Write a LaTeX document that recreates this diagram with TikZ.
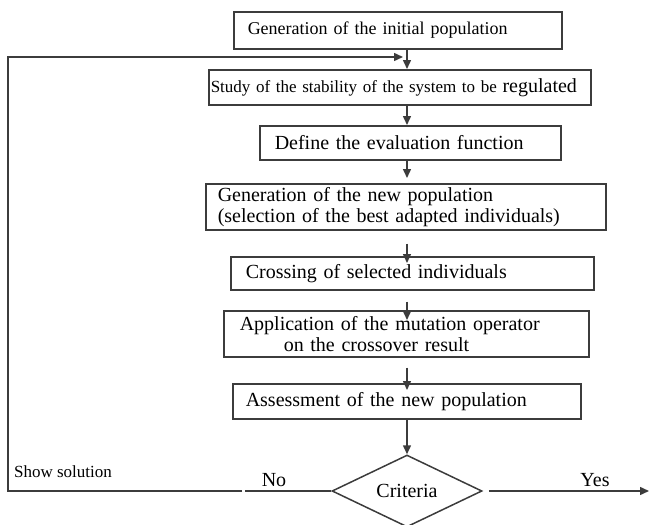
\documentclass[tikz,border=0pt]{standalone}
\usepackage{fontspec}
\setmainfont{Liberation Serif}
\usetikzlibrary{shapes.geometric,arrows.meta}

\definecolor{inkgray}{RGB}{60,60,60}
\newcommand\widetxt{\fontsize{20}{21}\selectfont\spaceskip=0.36em plus 0.1em\relax}
\tikzset{every picture/.style={line width=1.5pt}}

\begin{document}
\begin{tikzpicture}[x=1pt,y=1pt,yscale=-1,xscale=1,
  stepbox/.style={draw=inkgray, anchor=north west, align=left, inner ysep=0pt},
  bigtxt/.style={font=\widetxt},
  flow/.style={draw=inkgray, -{Triangle[length=9pt,width=8pt]}},
  link/.style={draw=inkgray}]
\useasboundingbox (0,0) rectangle (649,525);

\coordinate (axis) at (407,0);

%Shape: Rectangle
\node[stepbox, inner xsep=14pt, text width=300pt, minimum height=37pt,
  font=\fontsize{18}{20}\selectfont] (init) at (233,11) {Generation of the initial population};
%Shape: Rectangle
\node[stepbox, inner xsep=2pt, text width=378pt, minimum height=35pt,
  font=\fontsize{17}{19}\selectfont] (stab) at (208,69) {Study of the stability of the system to be {\fontsize{20}{21}\selectfont regulated}};
%Shape: Rectangle
\node[stepbox, bigtxt, inner xsep=15pt, text width=271pt, minimum height=34pt] (evalf) at (259,125) {Define the evaluation function};
%Shape: Rectangle
\node[stepbox, bigtxt, inner xsep=12pt, text width=376pt, minimum height=46pt] (newpop) at (205,183) {Generation of the new population\\(selection of the best adapted individuals)};
%Shape: Rectangle
\node[stepbox, bigtxt, inner xsep=15pt, text width=333pt, minimum height=33pt] (cross) at (230,256) {Crossing of selected individuals};
%Shape: Rectangle
\node[stepbox, bigtxt, inner xsep=16pt, text width=333pt, minimum height=46pt] (mut) at (223,310) {Application of the mutation operator\\\hspace*{44pt}on the crossover result};
%Shape: Rectangle
\node[stepbox, bigtxt, inner xsep=13pt, text width=322pt, minimum height=35pt] (assess) at (232,383) {Assessment of the new population};
%Shape: Diamond
\node[diamond, draw=inkgray, aspect=2.08, minimum width=150pt, minimum height=72pt,
  inner sep=0pt, font=\fontsize{20}{21}\selectfont] (crit) at (407,491) {Criteria};

\coordinate (gapR) at (245,491);
\coordinate (gapL) at (242,491);
\coordinate (corner) at (8,491);
\coordinate (loopin) at (403,57);
\coordinate (exit) at (649,491);

%Straight Lines
\draw[flow] (init.south -| axis) -- (stab.north -| axis);
\draw[flow] (stab.south -| axis) -- (evalf.north -| axis);
\draw[flow, shorten >=5pt] (evalf.south -| axis) -- (newpop.north -| axis);
\draw[flow, shorten <=13pt, shorten >=-7pt] (newpop.south -| axis) -- (cross.north -| axis);
\draw[flow, shorten <=11pt, shorten >=-10pt] (cross.south -| axis) -- (mut.north -| axis);
\draw[flow, shorten <=10pt, shorten >=-7pt] (mut.south -| axis) -- (assess.north -| axis);
\draw[flow] (assess.south -| axis) -- (crit.north);
%Straight Lines
\draw[link] (crit.west) -- (gapR);
\draw[flow] (gapL) -- (corner) |- (loopin);
\draw[flow, shorten <=6pt] (crit.east) -- (exit);

% Text Node
\node[anchor=west, font=\fontsize{17}{19}\selectfont] (showlab) at (10,472) {Show solution};
% Text Node
\node[font=\fontsize{20}{21}\selectfont] (nolab) at (274,480) {No};
% Text Node
\node[font=\fontsize{20}{21}\selectfont] (yeslab) at (595,480) {Yes};
\end{tikzpicture}
\end{document}
